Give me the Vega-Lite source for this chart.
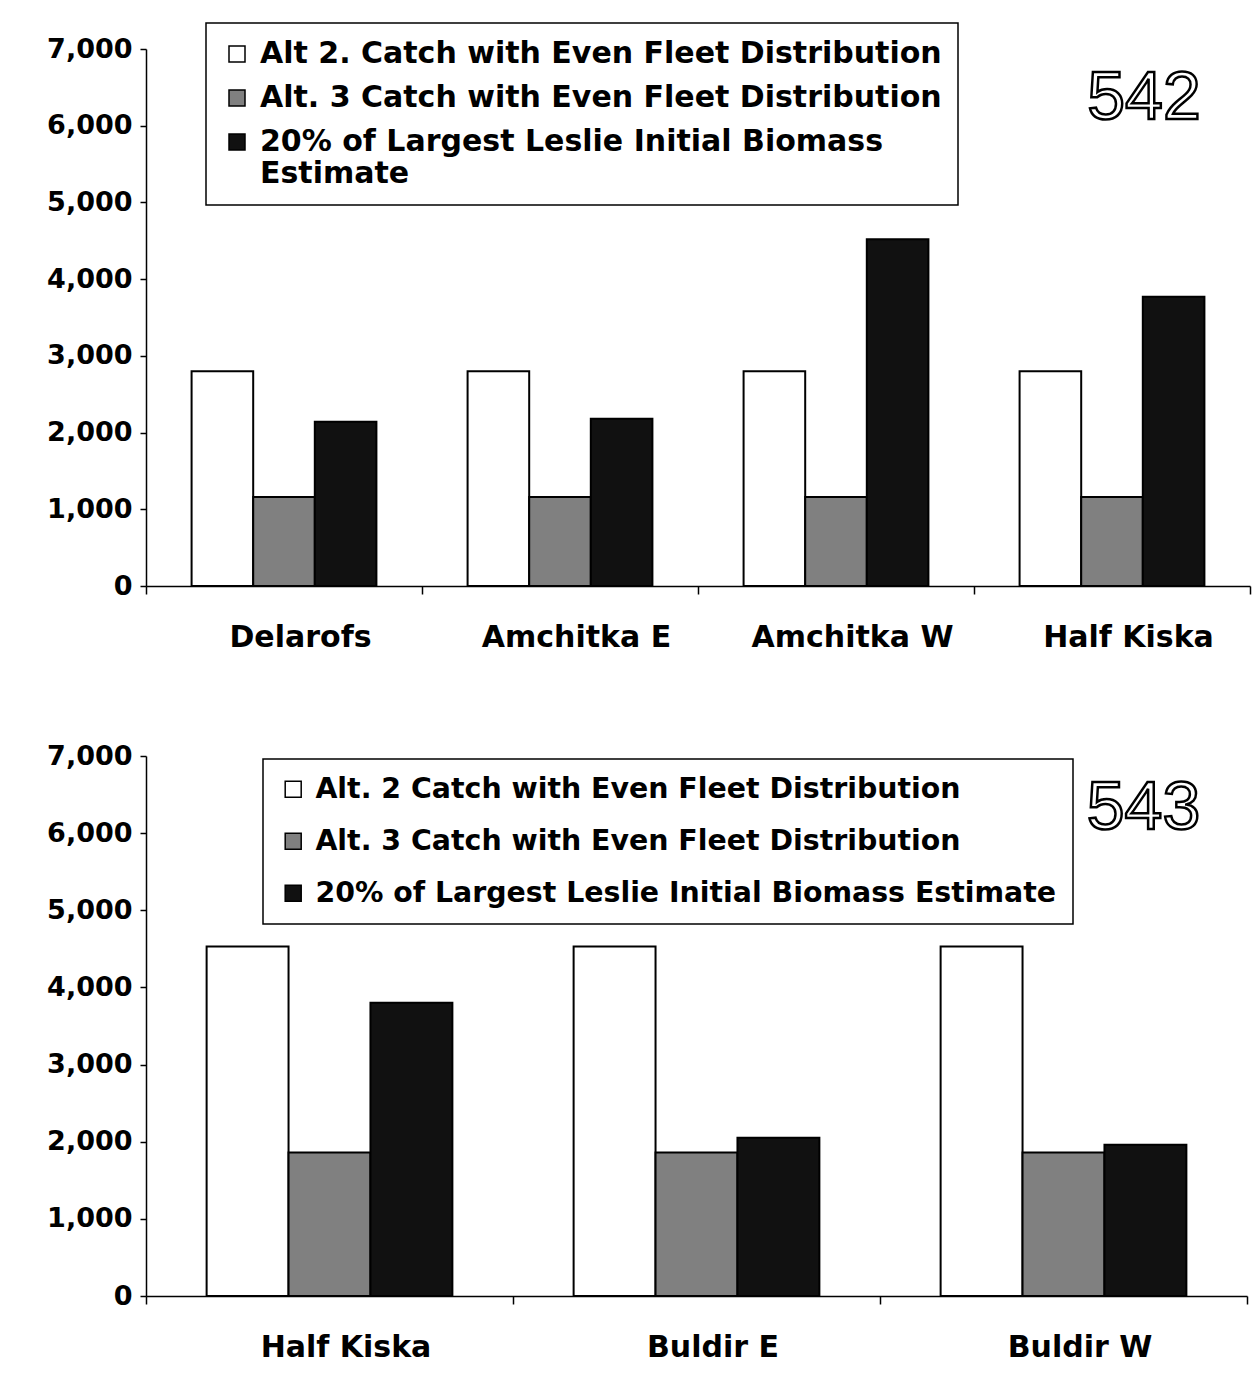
{
  "$schema": "https://vega.github.io/schema/vega-lite/v6.json",
  "padding": {"left": 46, "top": 22, "right": 5, "bottom": 5},
  "background": "white",
  "spacing": 90,
  "config": {
    "view": {"stroke": null},
    "axis": {
      "domainColor": "black",
      "domainWidth": 1.5,
      "tickColor": "black",
      "tickWidth": 1.5,
      "labelColor": "black",
      "labelFont": "DejaVu Sans",
      "labelFontWeight": "bold",
      "labelLimit": 500,
      "grid": false,
      "title": null
    },
    "legend": {
      "orient": "none",
      "title": null,
      "strokeColor": "black",
      "strokeWidth": 1.5,
      "fillColor": "white",
      "padding": 16,
      "symbolType": "square",
      "symbolSize": 256,
      "symbolStrokeColor": "black",
      "symbolStrokeWidth": 1.5,
      "labelFont": "DejaVu Sans",
      "labelFontWeight": "bold",
      "labelFontSize": 30,
      "labelColor": "black",
      "labelLimit": 1200,
      "labelOffset": 8
    }
  },
  "vconcat": [
    {
      "width": 1104,
      "height": 537,
      "data": {"values": [
        {"region": "Delarofs", "series": "Alt 2. Catch with Even Fleet Distribution", "value": 2800},
        {"region": "Delarofs", "series": "Alt. 3 Catch with Even Fleet Distribution", "value": 1160},
        {"region": "Delarofs", "series": "20% of Largest Leslie Initial Biomass Estimate", "value": 2140},
        {"region": "Amchitka E", "series": "Alt 2. Catch with Even Fleet Distribution", "value": 2800},
        {"region": "Amchitka E", "series": "Alt. 3 Catch with Even Fleet Distribution", "value": 1160},
        {"region": "Amchitka E", "series": "20% of Largest Leslie Initial Biomass Estimate", "value": 2180},
        {"region": "Amchitka W", "series": "Alt 2. Catch with Even Fleet Distribution", "value": 2800},
        {"region": "Amchitka W", "series": "Alt. 3 Catch with Even Fleet Distribution", "value": 1160},
        {"region": "Amchitka W", "series": "20% of Largest Leslie Initial Biomass Estimate", "value": 4520},
        {"region": "Half Kiska", "series": "Alt 2. Catch with Even Fleet Distribution", "value": 2800},
        {"region": "Half Kiska", "series": "Alt. 3 Catch with Even Fleet Distribution", "value": 1160},
        {"region": "Half Kiska", "series": "20% of Largest Leslie Initial Biomass Estimate", "value": 3770}
      ]},
      "layer": [
        {
          "mark": {"type": "bar", "stroke": "black", "strokeWidth": 2},
          "encoding": {
            "x": {
              "field": "region", "type": "nominal",
              "sort": ["Delarofs", "Amchitka E", "Amchitka W", "Half Kiska"],
              "scale": {"paddingInner": 0, "paddingOuter": 0},
              "axis": {"labelAngle": 0, "tickBand": "extent", "tickSize": 8, "labelPadding": 28, "labelFontSize": 30, "labelOffset": 16}
            },
            "xOffset": {
              "field": "series", "type": "nominal",
              "sort": ["Alt 2. Catch with Even Fleet Distribution", "Alt. 3 Catch with Even Fleet Distribution", "20% of Largest Leslie Initial Biomass Estimate"],
              "scale": {"paddingInner": 0, "paddingOuter": 0.74}
            },
            "y": {
              "field": "value", "type": "quantitative",
              "scale": {"domain": [0, 7000], "nice": false},
              "axis": {"values": [0, 1000, 2000, 3000, 4000, 5000, 6000, 7000], "format": ",.0f", "tickSize": 6, "labelPadding": 8, "labelFontSize": 27}
            },
            "color": {
              "field": "series", "type": "nominal",
              "scale": {
                "domain": ["Alt 2. Catch with Even Fleet Distribution", "Alt. 3 Catch with Even Fleet Distribution", "20% of Largest Leslie Initial Biomass Estimate"],
                "range": ["#ffffff", "#808080", "#111111"]
              },
              "legend": {
                "legendX": 60, "legendY": -26, "rowPadding": 14,
                "labelExpr": "datum.label == '20% of Largest Leslie Initial Biomass Estimate' ? ['20% of Largest Leslie Initial Biomass', 'Estimate'] : datum.label"
              }
            }
          }
        },
        {
          "data": {"values": [{"region": "Half Kiska", "value": 6350, "label": "542"}]},
          "mark": {"type": "text", "font": "Liberation Sans", "fontSize": 68, "fill": "white", "stroke": "black", "strokeWidth": 2.5, "baseline": "middle", "align": "center", "dx": 32},
          "encoding": {
            "x": {"field": "region", "type": "nominal", "sort": ["Delarofs", "Amchitka E", "Amchitka W", "Half Kiska"]},
            "y": {"field": "value", "type": "quantitative"},
            "text": {"field": "label"}
          }
        }
      ]
    },
    {
      "width": 1101,
      "height": 540,
      "data": {"values": [
        {"region": "Half Kiska", "series": "Alt. 2 Catch with Even Fleet Distribution", "value": 4530},
        {"region": "Half Kiska", "series": "Alt. 3 Catch with Even Fleet Distribution", "value": 1860},
        {"region": "Half Kiska", "series": "20% of Largest Leslie Initial Biomass Estimate", "value": 3800},
        {"region": "Buldir E", "series": "Alt. 2 Catch with Even Fleet Distribution", "value": 4530},
        {"region": "Buldir E", "series": "Alt. 3 Catch with Even Fleet Distribution", "value": 1860},
        {"region": "Buldir E", "series": "20% of Largest Leslie Initial Biomass Estimate", "value": 2050},
        {"region": "Buldir W", "series": "Alt. 2 Catch with Even Fleet Distribution", "value": 4530},
        {"region": "Buldir W", "series": "Alt. 3 Catch with Even Fleet Distribution", "value": 1860},
        {"region": "Buldir W", "series": "20% of Largest Leslie Initial Biomass Estimate", "value": 1960}
      ]},
      "layer": [
        {
          "mark": {"type": "bar", "stroke": "black", "strokeWidth": 2},
          "encoding": {
            "x": {
              "field": "region", "type": "nominal",
              "sort": ["Half Kiska", "Buldir E", "Buldir W"],
              "scale": {"paddingInner": 0, "paddingOuter": 0},
              "axis": {"labelAngle": 0, "tickBand": "extent", "tickSize": 8, "labelPadding": 28, "labelFontSize": 30, "labelOffset": 16}
            },
            "xOffset": {
              "field": "series", "type": "nominal",
              "sort": ["Alt. 2 Catch with Even Fleet Distribution", "Alt. 3 Catch with Even Fleet Distribution", "20% of Largest Leslie Initial Biomass Estimate"],
              "scale": {"paddingInner": 0, "paddingOuter": 0.74}
            },
            "y": {
              "field": "value", "type": "quantitative",
              "scale": {"domain": [0, 7000], "nice": false},
              "axis": {"values": [0, 1000, 2000, 3000, 4000, 5000, 6000, 7000], "format": ",.0f", "tickSize": 6, "labelPadding": 8, "labelFontSize": 27}
            },
            "color": {
              "field": "series", "type": "nominal",
              "scale": {
                "domain": ["Alt. 2 Catch with Even Fleet Distribution", "Alt. 3 Catch with Even Fleet Distribution", "20% of Largest Leslie Initial Biomass Estimate"],
                "range": ["#ffffff", "#808080", "#111111"]
              },
              "legend": {"legendX": 117, "legendY": 3, "rowPadding": 23, "labelFontSize": 28.4}
            }
          }
        },
        {
          "data": {"values": [{"region": "Buldir W", "value": 6316, "label": "543"}]},
          "mark": {"type": "text", "font": "Liberation Sans", "fontSize": 68, "fill": "white", "stroke": "black", "strokeWidth": 2.5, "baseline": "middle", "align": "center", "dx": 80},
          "encoding": {
            "x": {"field": "region", "type": "nominal", "sort": ["Half Kiska", "Buldir E", "Buldir W"]},
            "y": {"field": "value", "type": "quantitative"},
            "text": {"field": "label"}
          }
        }
      ]
    }
  ],
  "resolve": {
    "scale": {"color": "independent", "x": "independent", "xOffset": "independent", "y": "independent"},
    "legend": {"color": "independent"}
  }
}
